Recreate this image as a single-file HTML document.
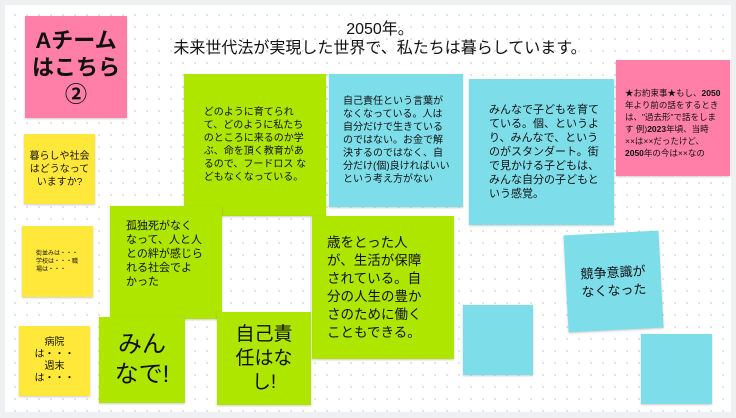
<!DOCTYPE html>
<html><head><meta charset="utf-8"><style>
body{margin:0;width:736px;height:418px;background:#eef0f2;position:relative;overflow:hidden;font-family:"Liberation Sans","Noto Sans CJK JP",sans-serif;color:#111}
#board{position:absolute;left:5px;top:5px;width:726px;height:407px;background-color:#fff;background-image:radial-gradient(circle,#d4d4d4 0.7px,transparent 1.1px);background-size:12px 12px;background-position:4px 4px}
.n{position:absolute;box-sizing:border-box;box-shadow:0 1px 2px rgba(0,0,0,.2);display:flex;align-items:center;justify-content:center;text-align:left;white-space:nowrap}
.g{background:#aee600}.c{background:#7ddde8}.p{background:#ff7fa8}.y{background:#ffe83a}
.t{position:absolute;left:170px;top:20px;width:420px;text-align:center;font-size:16px;line-height:19px}
</style></head><body>
<div id="board"></div>
<div class="t">2050年。<br>未来世代法が実現した世界で、私たちは暮らしています。</div>
<div class="n p" style="left:25px;top:16px;width:102px;height:102px;font-size:22px;line-height:27px;font-weight:bold;text-align:center"><span>Aチーム<br>はこちら<br>②</span></div>
<div class="n y" style="left:24px;top:134px;width:71px;height:70px;font-size:10px;line-height:13px;text-align:center"><span>暮らしや社会<br>はどうなって<br>いますか?</span></div>
<div class="n y" style="left:22px;top:226px;width:71px;height:71px;font-size:6px;line-height:8px;padding-left:14px;justify-content:flex-start"><span>街並みは・・・<br>学校は・・・職<br>場は・・・</span></div>
<div class="n y" style="left:19px;top:326px;width:71px;height:70px;font-size:10px;line-height:12px;text-align:center"><span>病院<br>は・・・<br>週末<br>は・・・</span></div>
<div class="n g" style="left:184px;top:74px;width:142px;height:142px;font-size:10px;line-height:13px"><span>どのように育てられ<br>て、どのように私たち<br>のところに来るのか学<br>ぶ、命を頂く教育があ<br>るので、フードロス な<br>どもなくなっている。</span></div>
<div class="n g" style="left:110px;top:206px;width:112px;height:113px;font-size:11px;line-height:14px;align-items:flex-start;justify-content:flex-start;padding:13px 0 0 16px"><span>孤独死がなく<br>なって、人と人<br>との絆が感じら<br>れる社会でよ<br>かった</span></div>
<div class="n" style="left:222px;top:216px;width:88px;height:96px;background:transparent;box-shadow:1px 0 1px rgba(0,0,0,.1)"></div>
<div class="n g" style="left:312px;top:216px;width:142px;height:143px;font-size:13.5px;line-height:18px;justify-content:flex-start;padding-left:15px"><span>歳をとった人<br>が、生活が保障<br>されている。自<br>分の人生の豊か<br>さのために働く<br>こともできる。</span></div>
<div class="n g" style="left:99px;top:317px;width:86px;height:86px;font-size:24px;line-height:30px;text-align:center"><span>みん<br>なで!</span></div>
<div class="n g" style="left:217px;top:312px;width:94px;height:93px;font-size:19px;line-height:24px;text-align:center"><span>自己責<br>任はな<br>し!</span></div>
<div class="n c" style="left:329px;top:74px;width:134px;height:133px;font-size:10px;line-height:13px;justify-content:flex-start;padding-left:14px"><span>自己責任という言葉が<br>なくなっている。人は<br>自分だけで生きている<br>のではない。お金で解<br>決するのではなく、自<br>分だけ(個)良ければいい<br>という考え方がない</span></div>
<div class="n c" style="left:469px;top:79px;width:145px;height:146px;font-size:11px;line-height:14px;justify-content:flex-start;padding-left:20px"><span>みんなで子どもを育て<br>ている。個、というよ<br>り、みんなで、という<br>のがスタンダート。街<br>で見かける子どもは、<br>みんな自分の子どもと<br>いう感覚。</span></div>
<div class="n p" style="left:616px;top:60px;width:114px;height:116px;font-size:8.5px;line-height:12px;align-items:flex-start;justify-content:flex-start;padding:27px 0 0 9px"><span>★お約束事★もし、<b>2050</b><br>年より前の話をするとき<br>は、"過去形"で話をしま<br>す 例)<b>2023</b>年頃、当時<br>××は××だったけど、<br><b>2050</b>年の今は××なの</span></div>
<div class="n c" style="left:566px;top:233px;width:95px;height:97px;font-size:13px;line-height:18px;text-align:center;transform:rotate(-3deg)"><span>競争意識が<br>なくなった</span></div>
<div class="n c" style="left:463px;top:305px;width:70px;height:70px"></div>
<div class="n c" style="left:641px;top:334px;width:71px;height:70px"></div>
</body></html>
